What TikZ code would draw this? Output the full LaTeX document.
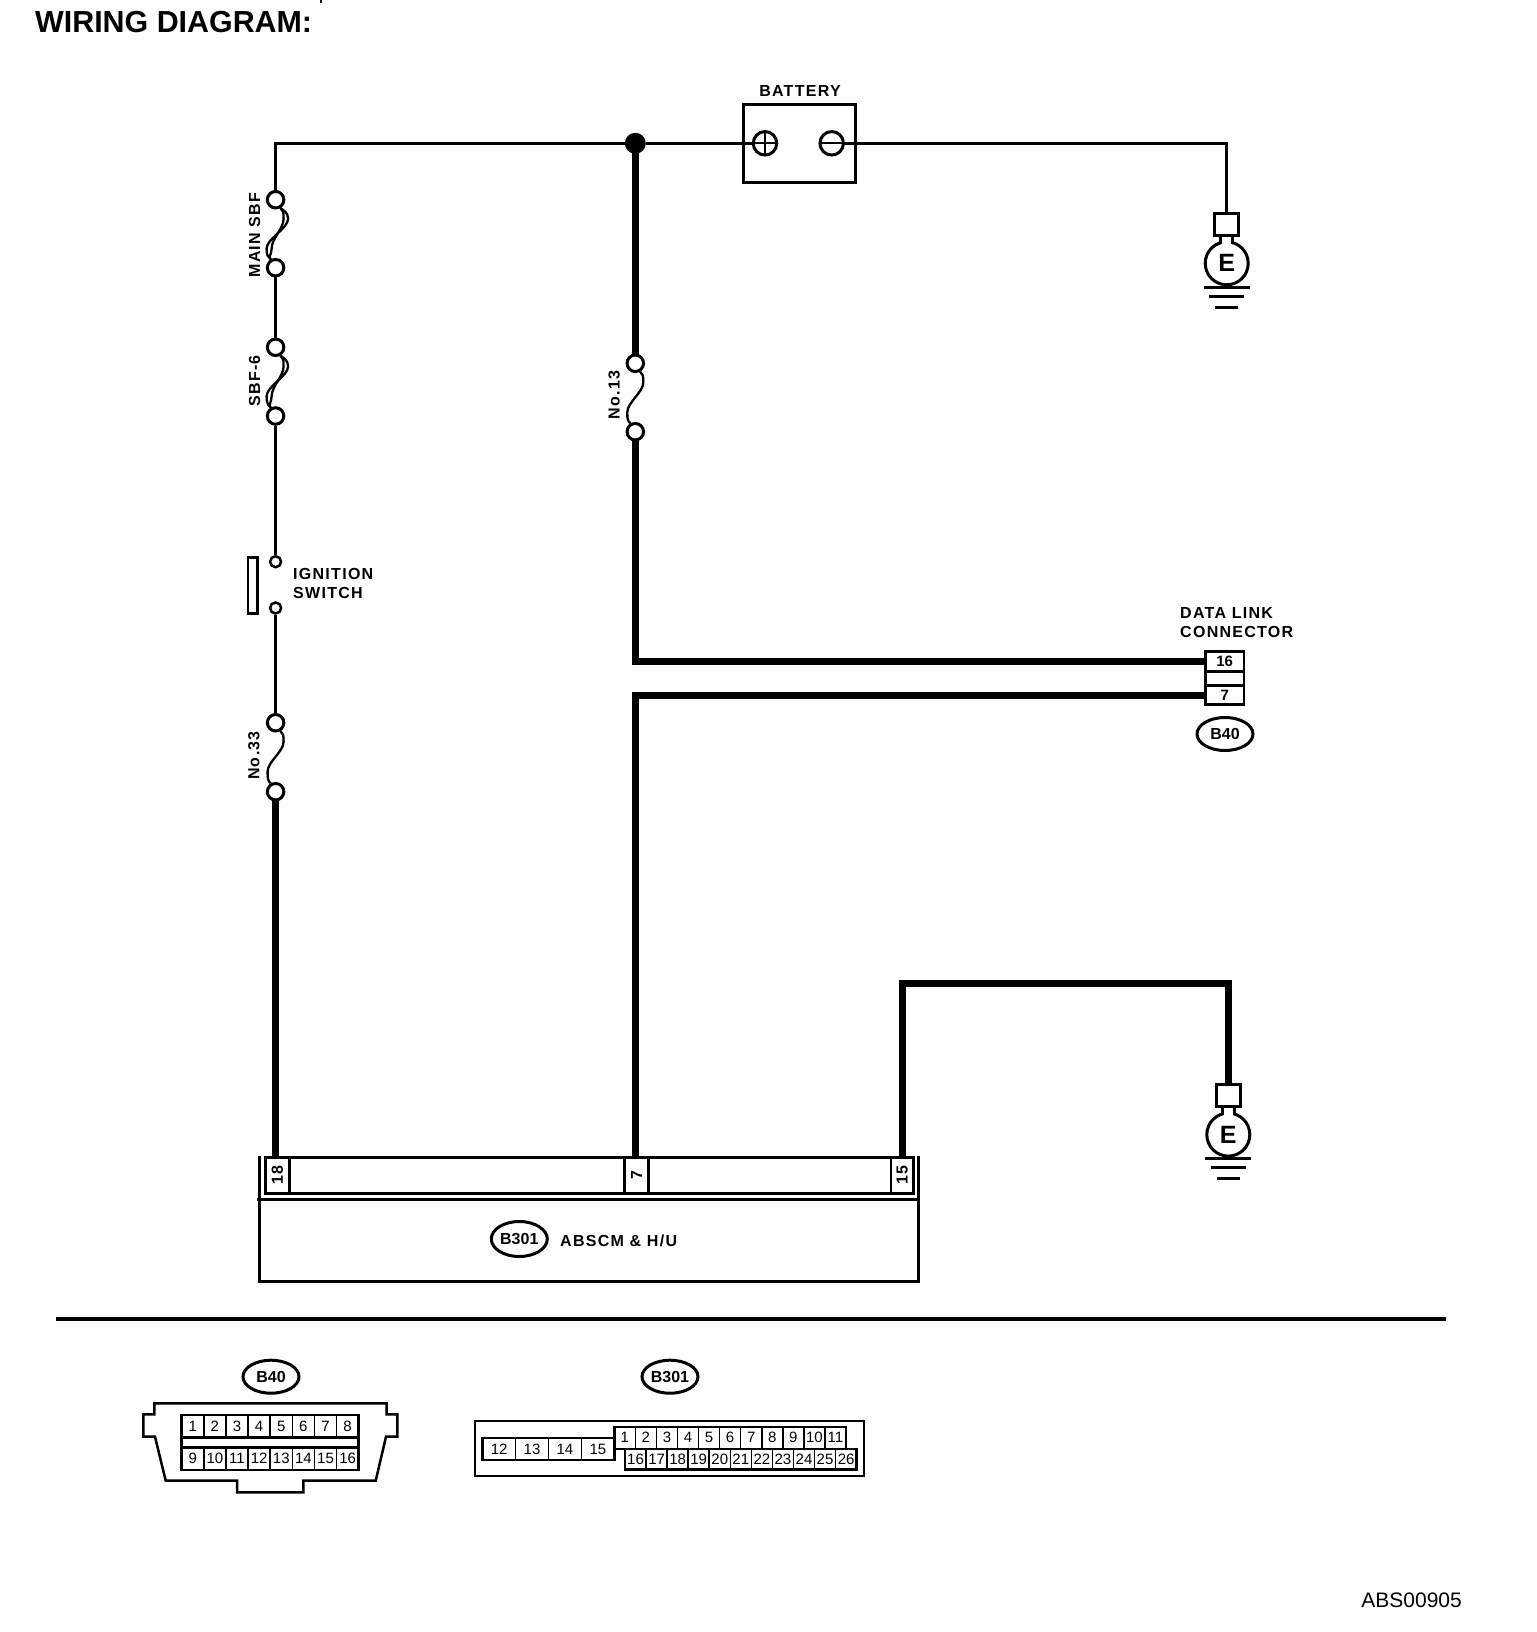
\documentclass[tikz,border=0pt]{standalone}
\usepackage{fontspec}
\setmainfont{Liberation Sans}
\newfontfamily\spaced[LetterSpace=8]{Liberation Sans}
\usetikzlibrary{calc,shapes.geometric}

\begin{document}
\begin{tikzpicture}[x=1pt,y=-1pt,
			wire/.style={line width=3pt},
			heavywire/.style={line width=7pt},
			fusepad/.style={draw,circle,fill=white,line width=3pt,minimum size=16.5pt,inner sep=0pt},
			swpad/.style={draw,circle,fill=white,line width=2.5pt,minimum size=11pt,inner sep=0pt},
			fuseline/.style={line width=2.3pt},
			box/.style={draw,rectangle,line width=3pt,inner sep=0pt,outer sep=0pt},
			pincell/.style={draw,rectangle,line width=1.6pt,inner sep=0pt,outer sep=0pt,font=\fontsize{15}{15}\selectfont},
			tagtext/.style={inner sep=0pt,font=\spaced\bfseries\fontsize{16}{19}\selectfont,align=left},
			conntag/.style={draw,ellipse,line width=3pt,inner sep=0pt,font=\bfseries\fontsize{16}{16}\selectfont}]
			\useasboundingbox (0,0) rectangle (1536,1632);
			\fill[white] (0,0) rectangle (1536,1632);

			\node (title) [anchor=west,inner sep=0pt,font=\bfseries\fontsize{30.4}{32}\selectfont] at (35,21.7) {WIRING DIAGRAM:};
			\draw[line width=2pt] (321.3,0) -- (321.3,3.5);
			\node (partno) [anchor=east,inner sep=0pt,font=\fontsize{21}{22}\selectfont] at (1462,1600.5) {ABS00905};

			% battery
			\node (battery) [box,minimum width=112pt,minimum height=78pt] at (799.6,143.3) {};
			\node (batlabel) [tagtext] at (800,90.7) {BATTERY};
			\node (plus) [draw,circle,line width=3pt,minimum size=23.5pt,inner sep=0pt,outer sep=0pt] at (765,143.3) {};
			\node (minus) [draw,circle,line width=3pt,minimum size=23.5pt,inner sep=0pt,outer sep=0pt] at (831.7,143.3) {};
			\draw[line width=2.4pt] (plus.west) -- (plus.east) (plus.north) -- (plus.south);
			\draw[line width=2.4pt] (minus.west) -- (minus.east);
			\node (junc) [circle,fill=black,minimum size=21pt,inner sep=0pt] at (635.3,143.3) {};

			% fuses
			\node (mainA) [fusepad] at (275.6,199.7) {};
			\node (mainB) [fusepad] at (275.6,267.7) {};
			\node (sbfA) [fusepad] at (275.6,347.3) {};
			\node (sbfB) [fusepad] at (275.6,416) {};
			\node (numA) [fusepad] at (275.6,722.7) {};
			\node (numB) [fusepad] at (275.6,791.7) {};
			\node (batA) [fusepad] at (635.3,363.3) {};
			\node (batB) [fusepad] at (635.3,431.7) {};
			\foreach \a/\b/\r/\l in {mainA/mainB/12.5/-9,mainA/mainB/8/-4,sbfA/sbfB/12.5/-9,sbfA/sbfB/8/-4,numA/numB/8/-8,batA/batB/8/-8}{
				\draw[fuseline] (\a.-60) .. controls +(3,2) and +(0,-6) .. ($(\a)+(\r,19)$) .. controls +(0,10) and +(0,-10) .. ($(\a)+(\l,49)$) .. controls +(0,6) and +(-3,-2) .. (\b.120);
			}
			\node (mainlabel) [tagtext,rotate=90] at (254.7,235) {MAIN SBF};
			\node (sbflabel) [tagtext,rotate=90] at (254.7,381) {SBF-6};
			\node (numlabel) [tagtext,rotate=90] at (254,755.5) {No.33};
			\node (batfuselabel) [tagtext,rotate=90] at (614,395) {No.13};

			% ignition switch
			\node (ignA) [swpad] at (275.6,561.7) {};
			\node (ignB) [swpad] at (275.6,608) {};
			\node (ignbar) [box,line width=2.5pt,minimum width=9.5pt,minimum height=56pt] at (252.7,585.5) {};
			\node (ignlabel) [tagtext,anchor=west] at (293,583.5) {IGNITION\\SWITCH};

			% data link connector
			\node (dlc16) [box,line width=2.6pt,minimum width=38.8pt,minimum height=20pt,font=\bfseries\fontsize{15}{15}\selectfont] at (1224.7,661.3) {16};
			\node (dlc7) [box,line width=2.6pt,minimum width=38.8pt,minimum height=19.4pt,font=\bfseries\fontsize{15}{15}\selectfont] at (1224.7,695) {7};
			\draw[line width=2.6pt] (dlc16.north west) rectangle (dlc7.south east);
			\node (dlclabel) [tagtext,anchor=west] at (1180,622.5) {DATA LINK\\CONNECTOR};
			\node (dlctag) [conntag,minimum width=56pt,minimum height=33pt] at (1225,734) {B40};

			% grounds
			\foreach \g/\x/\y in {gndA/1226.7/212.7,gndB/1228.3/1084}{
				\node (\g sq) [box,minimum width=24pt,minimum height=22pt] at (\x,\y+11.5) {};
				\node (\g) [draw,circle,line width=3pt,minimum size=43pt,inner sep=0pt,font=\bfseries\fontsize{25}{25}\selectfont] at (\x,\y+50.6) {E};
				\fill[white] (\x-5,\y+25) rectangle (\x+5,\y+33);
				\draw[line width=3pt] (\x-6,\y+23) -- (\x-6,\y+31) (\x+6,\y+23) -- (\x+6,\y+31);
				\draw[line width=3pt] (\x-23,\y+74.6) -- (\x+23,\y+74.6);
				\draw[line width=3pt] (\x-17.5,\y+83.5) -- (\x+17.5,\y+83.5);
				\draw[line width=3pt] (\x-11.5,\y+94.6) -- (\x+11.5,\y+94.6);
			}

			% control module
			\node (module) [box,minimum width=659pt,minimum height=82pt] at (588.8,1240.3) {};
			\draw[line width=3pt] (module.north west) -- ++(0,-43.3);
			\draw[line width=3pt] (module.north east) -- ++(0,-43.3);
			\draw[line width=3pt] (module.north west) -- ++(-2,0);
			\node (header) [box,minimum width=648pt,minimum height=36pt] at (589.3,1175.3) {};
			\node (p18) [box,line width=2.5pt,minimum width=24pt,minimum height=36pt] at (277.3,1175.3) {};
			\node (p7) [box,line width=2.5pt,minimum width=23.6pt,minimum height=36pt] at (636.5,1175.3) {};
			\node (p15) [box,line width=2.5pt,minimum width=22.3pt,minimum height=36pt] at (902.1,1175.3) {};
			\node (p18text) [tagtext,rotate=90] at (p18) {18};
			\node (p7text) [tagtext,rotate=90] at (p7) {7};
			\node (p15text) [tagtext,rotate=90] at (p15) {15};
			\node (modtag) [conntag,minimum width=56pt,minimum height=35pt] at (519.3,1239) {B301};
			\node (modlabel) [tagtext,anchor=west] at (560,1240.7) {ABSCM \& H/U};

			% wires
			\draw[wire] (junc) -- (plus.west);
			\draw[wire] (junc) -| (mainA.north);
			\draw[wire] (mainB) -- (sbfA);
			\draw[wire] (sbfB) -- (ignA);
			\draw[wire] (ignB) -- (numA);
			\draw[wire] (minus.east) -| (gndAsq.north);
			\draw[heavywire] (numB) -- (numB |- p18.north);
			\draw[heavywire] (junc.center) -- (batA);
			\draw[heavywire] (batB) |- (dlc16);
			\draw[heavywire] (dlc7) -| (junc |- p7.north);
			\coordinate (gndbend) at (1228.3,983.3);
			\draw[heavywire] (p15.north) |- (gndbend) -- (gndBsq.north);

			% separator
			\draw[line width=4pt] (56,1319) -- (1446,1319);

			% connector faces
			\node (b40tag) [conntag,minimum width=56pt,minimum height=33pt] at (271,1376.7) {B40};
			\draw[line width=2.5pt] (154.3,1403.3) -- (386.7,1403.3) -- (386.7,1414.3) -- (397.3,1414.3) -- (397.3,1436.7) -- (386,1436.7) -- (375.7,1480.7) -- (303.3,1480.7) -- (303.3,1492.3) -- (237,1492.3) -- (237,1480.7) -- (165.7,1480.7) -- (155,1436.7) -- (143.3,1436.7) -- (143.3,1414.3) -- (154.3,1414.3) -- cycle;
			\foreach \n [count=\i] in {1,...,8}
				\node (b40p\n) [pincell,minimum width=22.1pt,minimum height=22.3pt] at (181.7+22.125*\i-11.06,1426.2) {\n};
			\foreach \n [count=\i] in {9,...,16}
				\node (b40p\n) [pincell,minimum width=22.1pt,minimum height=22.7pt] at (181.7+22.125*\i-11.06,1458.7) {\n};
			\draw[line width=2.6pt] (b40p1.north west) rectangle (b40p8.south east);
			\draw[line width=2.6pt] (b40p9.north west) rectangle (b40p16.south east);
			\draw[line width=2.6pt] (b40p1.north west) rectangle (b40p16.south east);

			\node (b301tag) [conntag,minimum width=56pt,minimum height=33pt] at (670,1376.7) {B301};
			\draw[line width=2.2pt] (475,1420.7) rectangle (864.3,1476);
			\foreach \n [count=\i] in {12,...,15}
				\node (absp\n) [pincell,minimum width=32.9pt,minimum height=22pt] at (482.7+32.9*\i-16.45,1449) {\n};
			\foreach \n [count=\i] in {1,...,11}
				\node (absp\n) [pincell,minimum width=21.06pt,minimum height=22pt] at (614.3+21.06*\i-10.53,1437.7) {\n};
			\foreach \n [count=\i] in {16,...,26}
				\node (absq\n) [pincell,minimum width=21.06pt,minimum height=20.6pt] at (625+21.06*\i-10.53,1459) {\n};
			\draw[line width=2.6pt] (absp12.north west) rectangle (absp15.south east);
			\draw[line width=2.4pt] (absp1.north west) rectangle (absp11.south east);
			\draw[line width=2.4pt] (absq16.north west) rectangle (absq26.south east);
		\end{tikzpicture}
\end{document}
